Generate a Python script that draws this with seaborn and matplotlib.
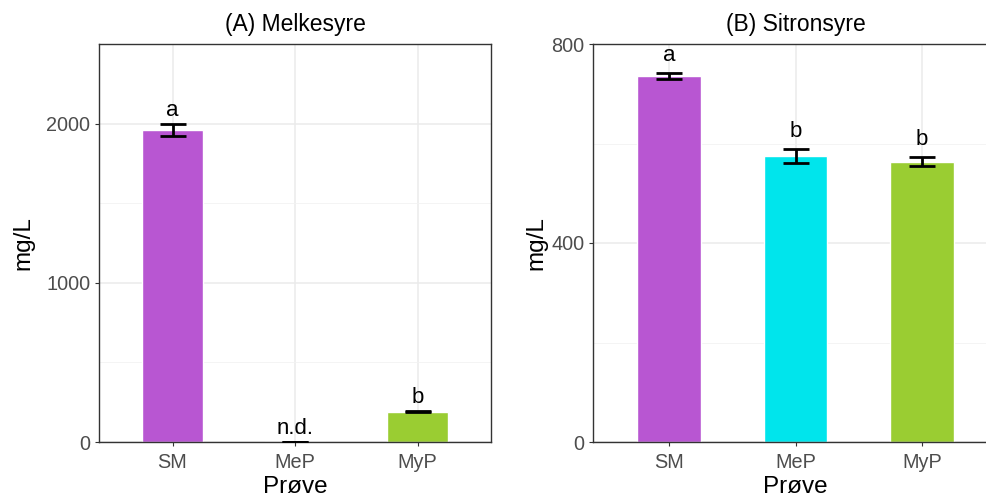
import matplotlib
matplotlib.use("Agg")
import matplotlib.pyplot as plt
from matplotlib.ticker import MultipleLocator
import seaborn as sns
import pandas as pd

# Samples and their colours
samples = ["SM", "MeP", "MyP"]
colors = ["#B856D2", "#00E5EC", "#9ACD32"]

# Lactic acid (Melkesyre), mg/L
lactic_mean = [1960, 0, 190]
lactic_se = [40, 0, 4]
lactic_letters = ["a", "n.d.", "b"]

# Citric acid (Sitronsyre), mg/L
citric_mean = [735, 575, 563]
citric_se = [6, 14, 9]
citric_letters = ["a", "b", "b"]

sns.set_theme(style="white")
plt.rcParams["font.family"] = ["Liberation Sans", "DejaVu Sans"]

fig = plt.figure(figsize=(9.86, 5.03), dpi=100)
W, H = 986, 503


def panel_axes(left, right, top, bottom):
    return fig.add_axes([left / W, (H - bottom) / H, (right - left) / W, (bottom - top) / H])


ax_a = panel_axes(99, 491, 44, 442)
ax_b = panel_axes(593, 998, 44, 442)


def draw_panel(ax, means, ses, letters, title, ymax, major, minor, text_off, ylab_x):
    df = pd.DataFrame({"Prøve": samples, "mg/L": means})
    sns.barplot(data=df, x="Prøve", y="mg/L", hue="Prøve", order=samples,
                hue_order=samples, palette=colors, width=0.5, errorbar=None,
                legend=False, saturation=1, ax=ax, zorder=2)
    ax.set_axisbelow(True)
    ax.yaxis.set_major_locator(MultipleLocator(major))
    ax.yaxis.set_minor_locator(MultipleLocator(minor))
    ax.grid(True, which="major", axis="both", color="#EBEBEB", linewidth=1.1)
    ax.grid(True, which="minor", axis="y", color="#F2F2F2", linewidth=0.6)
    xs = list(range(len(samples)))
    ax.errorbar(xs, means, yerr=ses, fmt="none", ecolor="black", elinewidth=2.0,
                capsize=9.2, capthick=2.0, zorder=3)
    for x, m, s, lab in zip(xs, means, ses, letters):
        ax.annotate(lab, (x, m + s), xytext=(0, text_off), textcoords="offset points",
                    ha="center", va="bottom", fontsize=16, color="black")
    ax.set_xlim(-0.6, 2.6)
    ax.set_ylim(0, ymax)
    ax.set_title(title, fontsize=16.5, pad=9, color="black")
    ax.set_xlabel("Prøve", fontsize=17.5, color="black")
    ax.set_ylabel("mg/L", fontsize=17.5, color="black")
    ax.xaxis.set_label_coords(0.5, -0.085)
    ax.yaxis.set_label_coords(ylab_x, 0.5)
    ax.tick_params(axis="both", which="major", length=3.2, width=0.8, color="#333333",
                   labelsize=14.3, labelcolor="#4D4D4D", pad=3, bottom=True, left=True)
    ax.tick_params(axis="x", pad=5)
    ax.tick_params(axis="y", which="minor", length=0)
    for sp in ax.spines.values():
        sp.set_color("#333333")
        sp.set_linewidth(1.0)


draw_panel(ax_a, lactic_mean, lactic_se, lactic_letters, "(A) Melkesyre",
           2500, 1000, 500, 2.0, -0.165)
draw_panel(ax_b, citric_mean, citric_se, citric_letters, "(B) Sitronsyre",
           800, 400, 200, 5.0, -0.112)

fig.savefig("out.png", dpi=100)
